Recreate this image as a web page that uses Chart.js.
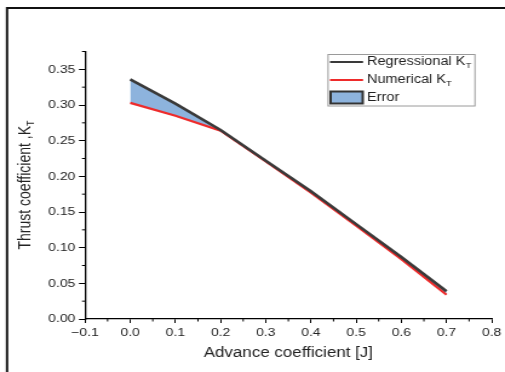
<!DOCTYPE html>
<html>
<head>
<meta charset="utf-8">
<script src="https://cdn.jsdelivr.net/npm/chart.js@4/dist/chart.umd.min.js"></script>
<style>
  html, body { margin: 0; padding: 0; background: #fff; overflow: hidden; }
  #wrap { width: 417px; height: 372px; transform: scaleX(1.211); transform-origin: 0 0; }
  canvas { display: block; }
</style>
</head>
<body>
<div id="wrap"><canvas id="c" width="417" height="372"></canvas></div>
<script>
// Advance coefficient J and thrust coefficient K_T
const advance = [0, 0.1, 0.2, 0.3, 0.4, 0.5, 0.6, 0.7];
const regressionalKT = [0.336, 0.302, 0.265, 0.222, 0.179, 0.133, 0.087, 0.039];
const numericalKT = [0.303, 0.285, 0.264, 0.221, 0.177, 0.131, 0.084, 0.034];

const xTicks = [-0.1, 0, 0.1, 0.2, 0.3, 0.4, 0.5, 0.6, 0.7, 0.8];
const xTickLabels = ['\u22120.1', '0.0', '0.1', '0.2', '0.3', '0.4', '0.5', '0.6', '0.7', '0.8'];
const yTicks = [0, 0.05, 0.1, 0.15, 0.2, 0.25, 0.3, 0.35];
const yTickLabels = ['0.00', '0.05', '0.10', '0.15', '0.20', '0.25', '0.30', '0.35'];
const xMinorTicks = [-0.05, 0.05, 0.15, 0.25, 0.35, 0.45, 0.55, 0.65, 0.75];
const yMinorTicks = [0.025, 0.075, 0.125, 0.175, 0.225, 0.275, 0.325, 0.375];

const FONT = '"Liberation Sans", Arial, sans-serif';
const toPoints = (ys) => advance.map((x, i) => ({ x: x, y: ys[i] }));

// Outer frame, minor ticks, axis titles with subscripts and the legend
const decorations = {
  id: 'decorations',
  afterDraw(chart) {
    const ctx = chart.ctx;
    const xs = chart.scales.x, ys = chart.scales.y;
    ctx.save();

    // frame
    ctx.strokeStyle = '#111';
    ctx.lineWidth = 2;
    ctx.beginPath();
    ctx.moveTo(5.8, 400);
    ctx.lineTo(5.8, 8);
    ctx.lineTo(420, 8);
    ctx.stroke();

    // minor ticks
    ctx.strokeStyle = '#000';
    ctx.lineWidth = 1;
    ctx.beginPath();
    xMinorTicks.forEach(v => {
      const px = xs.getPixelForValue(v);
      ctx.moveTo(px, ys.bottom);
      ctx.lineTo(px, ys.bottom + 2.5);
    });
    yMinorTicks.forEach(v => {
      const py = ys.getPixelForValue(v);
      ctx.moveTo(xs.left, py);
      ctx.lineTo(xs.left - 2.5, py);
    });
    ctx.stroke();

    ctx.fillStyle = '#222';

    // x title
    ctx.font = '14px ' + FONT;
    ctx.textAlign = 'center';
    ctx.textBaseline = 'middle';
    ctx.fillText('Advance coefficient [J]', (xs.left + xs.right) / 2, 353);

    // y title, rotated, with subscript
    ctx.save();
    ctx.translate(21.5, 185);
    ctx.rotate(-Math.PI / 2);
    const main = 'Thrust coefficient ,K';
    ctx.font = '14px ' + FONT;
    const wMain = ctx.measureText(main).width;
    ctx.font = '9px ' + FONT;
    const wSub = ctx.measureText('T').width;
    const total = wMain + wSub;
    ctx.textAlign = 'left';
    ctx.textBaseline = 'middle';
    ctx.font = '14px ' + FONT;
    ctx.fillText(main, -total / 2, 0);
    ctx.font = '9px ' + FONT;
    ctx.fillText('T', -total / 2 + wMain, 4);
    ctx.restore();

    // legend
    const lx = 270.9, ly = 54.5, lw = 121.3, lh = 51.5;
    ctx.strokeStyle = '#9a9a9a';
    ctx.lineWidth = 1;
    ctx.strokeRect(lx, ly, lw, lh);

    const rows = [
      { label: 'Regressional K', sub: 'T', y: 62, kind: 'line', color: '#3a3a3a' },
      { label: 'Numerical K', sub: 'T', y: 80, kind: 'line', color: '#ee2b2b' },
      { label: 'Error', sub: '', y: 97.5, kind: 'box', color: '#8db3dd' }
    ];
    rows.forEach(r => {
      if (r.kind === 'line') {
        ctx.strokeStyle = r.color;
        ctx.lineWidth = 2;
        ctx.beginPath();
        ctx.moveTo(272.5, r.y);
        ctx.lineTo(299.8, r.y);
        ctx.stroke();
      } else {
        ctx.fillStyle = r.color;
        ctx.fillRect(273, r.y - 6, 26.5, 12);
        ctx.strokeStyle = '#333';
        ctx.lineWidth = 2;
        ctx.strokeRect(273, r.y - 6, 26.5, 12);
      }
      ctx.fillStyle = '#222';
      ctx.textAlign = 'left';
      ctx.textBaseline = 'middle';
      ctx.font = '12px ' + FONT;
      ctx.fillText(r.label, 303, r.y);
      if (r.sub) {
        const w = ctx.measureText(r.label).width;
        ctx.font = '8px ' + FONT;
        ctx.fillText(r.sub, 303 + w, r.y + 3.5);
      }
    });

    ctx.restore();
  }
};

new Chart(document.getElementById('c'), {
  type: 'line',
  data: {
    datasets: [
      {
        label: 'Regressional KT',
        data: toPoints(regressionalKT),
        borderColor: '#3a3a3a',
        borderWidth: 2.6,
        pointRadius: 0,
        tension: 0,
        fill: false
      },
      {
        label: 'Numerical KT',
        data: toPoints(numericalKT),
        borderColor: '#ee2b2b',
        borderWidth: 2.2,
        pointRadius: 0,
        tension: 0,
        fill: false
      },
      {
        label: 'Error',
        data: toPoints(regressionalKT),
        borderWidth: 0,
        borderColor: 'rgba(0,0,0,0)',
        backgroundColor: '#8db3dd',
        pointRadius: 0,
        tension: 0,
        fill: 1
      }
    ]
  },
  options: {
    responsive: false,
    animation: false,
    events: [],
    layout: { padding: { left: 0, top: 51.5, right: 9.9, bottom: 0 } },
    plugins: {
      legend: { display: false },
      tooltip: { enabled: false },
      filler: { drawTime: 'beforeDatasetsDraw' }
    },
    scales: {
      x: {
        type: 'linear',
        min: -0.1,
        max: 0.8,
        afterFit(scale) { scale.height = 53; },
        afterBuildTicks(scale) { scale.ticks = xTicks.map(v => ({ value: v })); },
        border: { display: true, color: '#000', width: 1.3 },
        grid: { drawOnChartArea: false, drawTicks: true, tickLength: 4, tickColor: '#000', tickWidth: 1 },
        ticks: {
          padding: 3,
          color: '#222',
          font: { family: FONT, size: 11.5 },
          maxRotation: 0,
          autoSkip: false,
          callback: (v) => {
            const i = xTicks.findIndex(t => Math.abs(t - v) < 1e-9);
            return i >= 0 ? xTickLabels[i] : '';
          }
        }
      },
      y: {
        type: 'linear',
        min: 0,
        max: 0.375,
        afterFit(scale) { scale.width = 70.2; },
        afterBuildTicks(scale) { scale.ticks = yTicks.map(v => ({ value: v })); },
        border: { display: true, color: '#000', width: 1.3 },
        grid: { drawOnChartArea: false, drawTicks: true, tickLength: 5, tickColor: '#000', tickWidth: 1 },
        ticks: {
          padding: 3,
          color: '#222',
          font: { family: FONT, size: 11.5 },
          autoSkip: false,
          callback: (v) => {
            const i = yTicks.findIndex(t => Math.abs(t - v) < 1e-9);
            return i >= 0 ? yTickLabels[i] : '';
          }
        }
      }
    }
  },
  plugins: [decorations]
});
</script>
</body>
</html>
